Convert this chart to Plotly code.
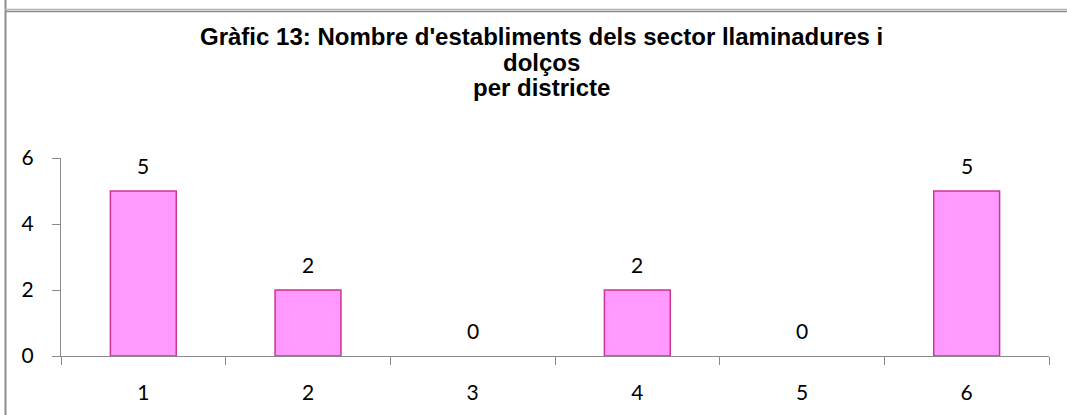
import plotly.graph_objects as go

districtes = ["1", "2", "3", "4", "5", "6"]
establiments = [5, 2, 0, 2, 0, 5]
y_ticks = [0, 2, 4, 6]
titol = ["Gràfic 13: Nombre d'establiments dels sector llaminadures i", "dolços", "per districte"]

AXIS_GRAY = "#8a8a8a"
LABEL_FONT = {"family": "Lato, Carlito, Calibri, sans-serif", "size": 21, "color": "#000000"}

# plot area in pixels: l=61, r=18, t=158, b=59 -> 988 x 198
L, R, T, B = 61, 18, 158, 59
W, H = 1067, 415
PW, PH = W - L - R, H - T - B


def px_x(px):
    return (px - L) / PW


def px_y(py):
    return (H - B - py) / PH


fig = go.Figure(go.Bar(
    x=districtes, y=establiments,
    marker={"color": "#ff99ff",
            "line": {"color": "#cc3399", "width": [1.5 if v else 0 for v in establiments]}},
    hoverinfo="x+y",
))

# value labels above each bar (category axis -> serial index)
for i, v in enumerate(establiments):
    fig.add_annotation(x=i, y=v, text=str(v), showarrow=False, yanchor="middle", yshift=26, font=LABEL_FONT)

title_y = [37, 62, 87]
for line, py in zip(titol, title_y):
    fig.add_annotation(xref="paper", yref="paper", x=px_x(541), y=px_y(py), text=f"<b>{line}</b>",
                       showarrow=False, xanchor="center", yanchor="middle",
                       font={"family": "Liberation Sans, Arial, sans-serif", "size": 24, "color": "#000000"})

# frame lines of the surrounding cell
fig.add_shape(type="line", xref="paper", yref="paper", x0=px_x(5.5), x1=px_x(5.5), y0=px_y(0), y1=px_y(415),
              line={"color": "#8c8c8c", "width": 2})
fig.add_shape(type="line", xref="paper", yref="paper", x0=px_x(5), x1=px_x(1067), y0=px_y(9.5), y1=px_y(9.5),
              line={"color": "#b4b4b4", "width": 1.5})
fig.add_shape(type="line", xref="paper", yref="paper", x0=px_x(5), x1=px_x(1067), y0=px_y(11.5), y1=px_y(11.5),
              line={"color": "#8c8c8c", "width": 1.5})

fig.update_layout(
    width=W, height=H,
    margin={"l": L, "r": R, "t": T, "b": B, "pad": 0},
    paper_bgcolor="#ffffff", plot_bgcolor="#ffffff",
    bargap=0.6, showlegend=False,
    font=LABEL_FONT,
)
fig.update_xaxes(type="category", range=[-0.5, 5.5], showline=True, linecolor=AXIS_GRAY, linewidth=1, showgrid=False,
                 ticks="outside", tickson="boundaries", ticklen=8, tickcolor=AXIS_GRAY, tickwidth=1,
                 ticklabelstandoff=18, tickfont=LABEL_FONT)
fig.update_yaxes(range=[0, 6], tickvals=y_ticks, showline=True, linecolor=AXIS_GRAY, linewidth=1,
                 showgrid=False, zeroline=False, ticks="outside", ticklen=8, tickcolor=AXIS_GRAY, tickwidth=1,
                 ticklabelstandoff=14, tickfont=LABEL_FONT)

fig.write_html("out.html", config={"displayModeBar": False},
               post_script="document.body.style.margin='0';")
